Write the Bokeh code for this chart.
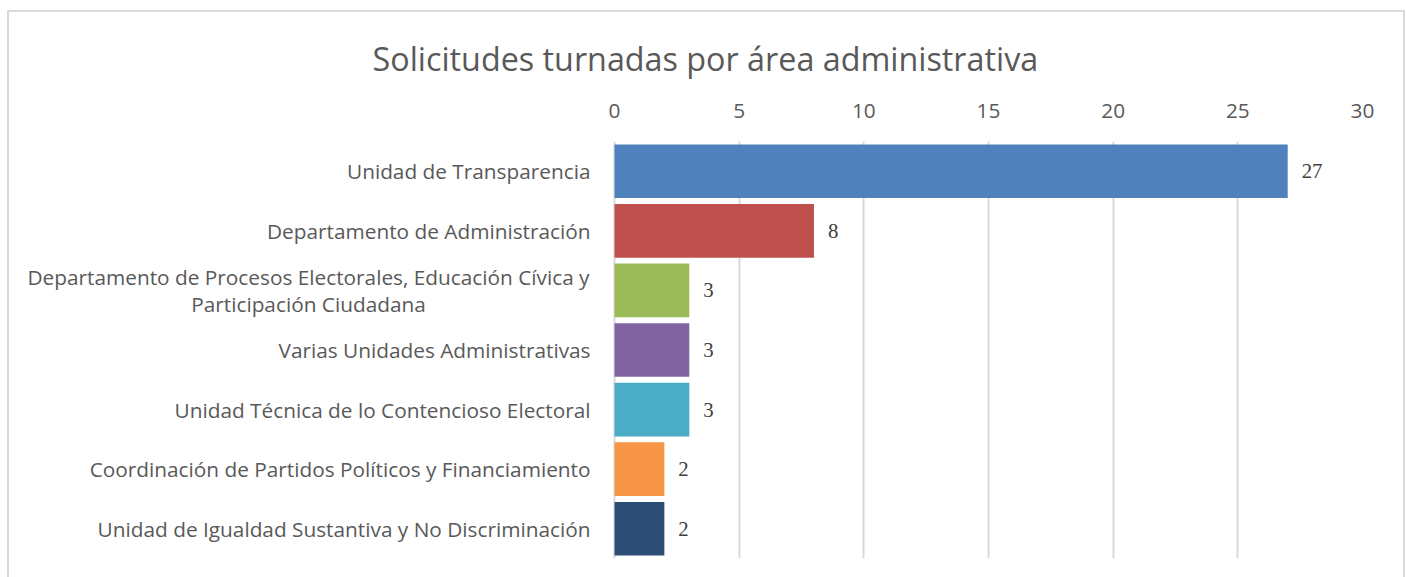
from bokeh.plotting import figure
from bokeh.models import ColumnDataSource, LabelSet, FixedTicker, Range1d, FactorRange, Title
from bokeh.embed import file_html
from bokeh.resources import INLINE
from bokeh.core.properties import value

categories = [
    "Unidad de Transparencia",
    "Departamento de Administración",
    "Departamento de Procesos Electorales, Educación Cívica y\nParticipación Ciudadana",
    "Varias Unidades Administrativas",
    "Unidad Técnica de lo Contencioso Electoral",
    "Coordinación de Partidos Políticos y Financiamiento",
    "Unidad de Igualdad Sustantiva y No Discriminación",
]
values = [27, 8, 3, 3, 3, 2, 2]
colors = ["#4F81BD", "#C0504D", "#9BBB59", "#8064A2", "#4BACC6", "#F79646", "#2C4D75"]
ticks = [0, 5, 10, 15, 20, 25, 30]
title = "Solicitudes turnadas por área administrativa"

FONT = "Open Sans"
TXT = "#595959"
FS = "20.8px"

# layout (pixels)
W, H = 1398, 567
MB_LEFT, MB_RIGHT = 5, 45
ZERO_FROM_FRAME_LEFT = 600          # where value 0 sits inside the frame
frame_w = W - MB_LEFT - MB_RIGHT
xmax = max(ticks)
xmin = -ZERO_FROM_FRAME_LEFT * xmax / (frame_w - ZERO_FROM_FRAME_LEFT)

src = ColumnDataSource(dict(cat=categories, val=values, color=colors,
                            lab=[str(v) for v in values],
                            zero=[0] * len(values)))

p = figure(width=W, height=H,
           y_range=FactorRange(*reversed(categories), range_padding=0),
           x_range=Range1d(xmin, xmax),
           x_axis_location="above",
           output_backend="svg", toolbar_location=None)
p.margin = (10, 0, 0, 7)
p.styles = {"border-top": "2px solid #d9d9d9", "border-left": "2px solid #d9d9d9",
            "border-right": "2px solid #d9d9d9"}
p.min_border_left = MB_LEFT
p.min_border_right = MB_RIGHT
p.min_border_top = 129
p.min_border_bottom = 21
p.outline_line_color = None
p.background_fill_color = "white"
p.border_fill_color = "white"

p.hbar(y="cat", right="val", left=0, height=0.9, color="color", source=src, line_color=None)

p.add_layout(LabelSet(x="val", y="cat", text="lab", source=src, x_offset=14,
                      text_align="left", text_baseline="middle",
                      text_font=FONT, text_font_size=FS, text_color="#404040",
                      level="overlay"))

# category labels drawn as text (single-line right aligned, wrapped one centred)
single = [i for i, c in enumerate(categories) if "\n" not in c]
wrapped = [i for i, c in enumerate(categories) if "\n" in c]
s1 = ColumnDataSource(dict(x=[0] * len(single), y=[categories[i] for i in single],
                           t=[categories[i] for i in single]))
s2 = ColumnDataSource(dict(x=[0] * len(wrapped), y=[categories[i] for i in wrapped],
                           t=[categories[i] for i in wrapped]))
p.text(x="x", y="y", text="t", source=s1, x_offset=-24,
       text_align="right", text_baseline="middle",
       text_font=value(FONT), text_font_size=FS, text_color=TXT)
p.text(x="x", y="y", text="t", source=s2, x_offset=-306,
       text_align="center", text_baseline="middle",
       text_font=value(FONT), text_font_size=FS, text_color=TXT,
       text_line_height=0.98)

xa = p.xaxis[0]
xa.ticker = FixedTicker(ticks=ticks)
xa.axis_line_color = None
xa.major_tick_line_color = None
xa.minor_tick_line_color = None
xa.major_label_text_font = FONT
xa.major_label_text_font_size = FS
xa.major_label_text_color = TXT
xa.major_label_standoff = 18

p.yaxis.visible = False

p.xgrid.grid_line_color = "#D9D9D9"
p.xgrid.grid_line_width = 2
p.xgrid.ticker = FixedTicker(ticks=ticks)
p.ygrid.grid_line_color = None

p.add_layout(Title(text=title, align="left", offset=-242 + ZERO_FROM_FRAME_LEFT, standoff=42,
                   text_font=FONT, text_font_size="32.3px", text_font_style="normal",
                   text_color=TXT), "above")

open("out.html", "w").write(file_html(p, INLINE))
